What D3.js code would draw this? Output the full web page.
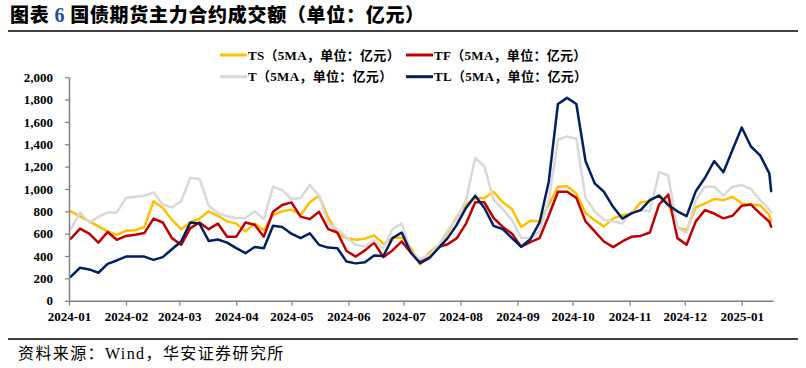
<!DOCTYPE html>
<html>
<head>
<meta charset="utf-8">
<script src="https://cdn.jsdelivr.net/npm/d3@7"></script>
<style>
  body { margin: 0; background: #fff; }
  svg { display: block; }
</style>
</head>
<body>
<svg id="chart"></svg>
<script>
// sample dates (5MA series)
const dates = [
  "2024-01-02","2024-01-07","2024-01-12","2024-01-17","2024-01-22","2024-01-27",
  "2024-02-01","2024-02-06","2024-02-11","2024-02-16","2024-02-21","2024-02-26",
  "2024-03-02","2024-03-07","2024-03-12","2024-03-17","2024-03-22","2024-03-27",
  "2024-04-01","2024-04-06","2024-04-11","2024-04-16","2024-04-21","2024-04-26",
  "2024-05-01","2024-05-06","2024-05-11","2024-05-16","2024-05-21","2024-05-26","2024-05-31",
  "2024-06-05","2024-06-10","2024-06-15","2024-06-20","2024-06-25","2024-06-30",
  "2024-07-05","2024-07-10","2024-07-15","2024-07-20","2024-07-25","2024-07-30",
  "2024-08-04","2024-08-09","2024-08-14","2024-08-19","2024-08-24","2024-08-29",
  "2024-09-03","2024-09-08","2024-09-13","2024-09-18","2024-09-23","2024-09-28",
  "2024-10-03","2024-10-08","2024-10-13","2024-10-18","2024-10-23","2024-10-28",
  "2024-11-02","2024-11-07","2024-11-12","2024-11-17","2024-11-22","2024-11-27",
  "2024-12-02","2024-12-07","2024-12-12","2024-12-17","2024-12-22","2024-12-27",
  "2025-01-01","2025-01-06","2025-01-11","2025-01-16","2025-01-17"
];

const tsValues = [
  800, 755, 710, 665, 620, 590,
  625, 630, 660, 890, 830, 725,
  640, 700, 735, 800, 760, 710,
  690, 620, 690, 632, 767, 800,
  815, 767, 880, 940, 740, 603, 560,
  545, 555, 585, 510, 560, 565,
  470, 325, 430, 495, 610, 750,
  860, 916, 920, 975, 880, 820,
  660, 715, 710, 860, 1020, 1025,
  960, 785, 720, 665, 737, 765,
  780, 880, 890, 945, 870, 650,
  632, 835, 870, 910, 900, 930,
  870, 860, 855, 767, 710
];

const tfValues = [
  555, 645, 600, 520, 615, 545,
  580, 590, 605, 735, 700, 560,
  500, 650, 700, 640, 690, 573,
  573, 700, 680, 573, 796, 856,
  880, 752, 730, 796, 640, 610, 445,
  395, 450, 520, 390, 450, 530,
  430, 350, 390, 480, 505, 560,
  690, 880, 880, 740, 660, 600,
  483, 525, 560, 760, 975, 975,
  920, 710, 620, 530, 480, 530,
  572, 580, 610, 860, 950, 560,
  500, 710, 811, 780, 737, 760,
  850, 860, 780, 707, 662
];

const tValues = [
  640, 790, 700, 750, 790, 790,
  920, 930, 940, 970, 860, 835,
  890, 1100, 1090, 850, 785, 755,
  740, 740, 800, 730, 1020, 990,
  910, 920, 1035, 940, 690, 640, 565,
  500, 485, 540, 468, 640, 690,
  435, 370, 410, 490, 630, 730,
  900, 1280, 1200, 905, 820, 720,
  560, 560, 620, 900, 1440, 1470,
  1450, 920, 800, 725, 710, 690,
  796, 810, 800, 1150, 1120, 650,
  610, 900, 1020, 1020, 940, 1020,
  1035, 1000, 900, 815, 790
];

const tlValues = [
  215, 295, 280, 250, 330, 360,
  395, 395, 395, 365, 390, 460,
  530, 700, 690, 535, 548, 520,
  470, 425, 480, 470, 670, 660,
  600, 560, 603, 500, 475, 470, 350,
  334, 345, 405, 400, 560, 610,
  430, 335, 380, 470, 560, 680,
  830, 940, 830, 670, 640, 560,
  483, 550, 700, 1065, 1760, 1815,
  1760, 1250, 1050, 975, 840, 735,
  781, 811, 900, 940, 856, 800,
  757, 980, 1100, 1250, 1150, 1350,
  1550, 1380, 1300, 1140, 980
];

const seriesNames = ["TS", "TF", "T", "TL"];
const seriesColors = ["#FFC000", "#C00000", "#D9D9D9", "#002060"];
const xTickLabels = ["2024-01","2024-02","2024-03","2024-04","2024-05","2024-06","2024-07",
  "2024-08","2024-09","2024-10","2024-11","2024-12","2025-01"];
const yTickValues = [0, 200, 400, 600, 800, 1000, 1200, 1400, 1600, 1800, 2000];

class Linechart {
  constructor(_config) {
    this.config = {
      parentElement: _config.parentElement,
      containerWidth: _config.containerWidth || 806,
      containerHeight: _config.containerHeight || 368,
      margin: _config.margin || { top: 77.2, right: 33, bottom: 67.3, left: 69 },
      latinFont: "'Liberation Serif', 'Times New Roman', serif",
      cjkFont: "'Noto Sans CJK SC', sans-serif"
    };
    this.initVis();
  }

  initVis() {
    let vis = this;
    const parseDay = d3.timeParse("%Y-%m-%d");
    const parseMonth = d3.timeParse("%Y-%m");

    vis.width = vis.config.containerWidth - vis.config.margin.left - vis.config.margin.right;
    vis.height = vis.config.containerHeight - vis.config.margin.top - vis.config.margin.bottom;

    vis.series = [tsValues, tfValues, tValues, tlValues].map((vals, i) => ({
      name: seriesNames[i],
      color: seriesColors[i],
      values: vals.map((v, j) => ({ date: parseDay(dates[j]), value: v }))
    }));

    vis.xScale = d3.scaleTime()
      .domain([parseDay("2024-01-01"), parseDay("2025-01-18")])
      .range([0, vis.width]);
    vis.yScale = d3.scaleLinear().domain([0, 2000]).range([vis.height, 0]);

    vis.xAxis = d3.axisBottom(vis.xScale)
      .tickValues(xTickLabels.map(parseMonth))
      .tickFormat(d3.timeFormat("%Y-%m"))
      .tickSizeInner(5)
      .tickSizeOuter(0)
      .tickPadding(6);

    vis.yAxis = d3.axisLeft(vis.yScale)
      .tickValues(yTickValues)
      .tickFormat(d3.format(","))
      .tickSizeInner(4)
      .tickSizeOuter(0)
      .tickPadding(12);

    vis.line = d3.line()
      .x(d => vis.xScale(d.date))
      .y(d => vis.yScale(d.value));

    vis.svg = d3.select(vis.config.parentElement)
      .attr("width", vis.config.containerWidth)
      .attr("height", vis.config.containerHeight);

    vis.svg.append("rect")
      .attr("width", vis.config.containerWidth)
      .attr("height", vis.config.containerHeight)
      .attr("fill", "#fff");

    // Title with blue figure number
    const title = vis.svg.append("text")
      .attr("x", 10)
      .attr("y", 21.5)
      .attr("font-family", vis.config.cjkFont)
      .attr("font-weight", 900)
      .attr("font-size", "19px")
      .attr("letter-spacing", "0.7px")
      .attr("fill", "#000");
    title.append("tspan").text("图表 ");
    title.append("tspan")
      .attr("font-family", vis.config.latinFont)
      .attr("font-weight", 700)
      .attr("fill", "#1F4E9C")
      .attr("font-size", "20px")
      .text("6");
    title.append("tspan").text(" 国债期货主力合约成交额（单位：亿元）");

    vis.svg.append("line")
      .attr("x1", 8).attr("x2", 798)
      .attr("y1", 31).attr("y2", 31)
      .attr("stroke", "#000")
      .attr("stroke-width", 1.5);

    vis.svg.append("line")
      .attr("x1", 8).attr("x2", 798)
      .attr("y1", 339).attr("y2", 339)
      .attr("stroke", "#000")
      .attr("stroke-width", 1.5);

    vis.svg.append("text")
      .attr("x", 18)
      .attr("y", 359)
      .attr("font-family", vis.config.latinFont + ", " + vis.config.cjkFont)
      .attr("font-size", "16px")
      .attr("letter-spacing", "1.4px")
      .attr("fill", "#000")
      .text("资料来源：Wind，华安证券研究所");

    vis.chart = vis.svg.append("g")
      .attr("transform", `translate(${vis.config.margin.left},${vis.config.margin.top})`);

    vis.xAxisG = vis.chart.append("g")
      .attr("class", "axis x-axis")
      .attr("transform", `translate(0,${vis.height})`);
    vis.yAxisG = vis.chart.append("g")
      .attr("class", "axis y-axis");

    // Legend, two rows of two
    const legendPos = [[220, 55], [406, 55], [220, 76.7], [406, 76.7]];
    vis.legend = vis.svg.append("g").attr("class", "legend");
    vis.series.forEach((s, i) => {
      const g = vis.legend.append("g")
        .attr("transform", `translate(${legendPos[i][0]},${legendPos[i][1]})`);
      g.append("line")
        .attr("x1", 0).attr("x2", 27)
        .attr("stroke", s.color)
        .attr("stroke-width", 3);
      g.append("text")
        .attr("x", 28)
        .attr("dy", "0.35em")
        .attr("font-family", vis.config.latinFont + ", " + vis.config.cjkFont)
        .attr("font-weight", 700)
        .attr("font-size", "13px")
        .attr("letter-spacing", "0.3px")
        .attr("fill", "#000")
        .text(`${s.name}（5MA，单位：亿元）`);
    });

    vis.renderVis();
  }

  renderVis() {
    let vis = this;

    vis.chart.selectAll(".line-path")
      .data(vis.series)
      .join("path")
      .attr("class", "line-path")
      .attr("d", d => vis.line(d.values))
      .attr("fill", "none")
      .attr("stroke", d => d.color)
      .attr("stroke-width", 2.5)
      .attr("stroke-linejoin", "round")
      .attr("stroke-linecap", "round");

    vis.xAxisG.call(vis.xAxis);
    vis.yAxisG.call(vis.yAxis);

    [vis.xAxisG, vis.yAxisG].forEach(g => {
      g.select(".domain").attr("stroke", "#808080").attr("stroke-width", 1.5);
      g.selectAll(".tick line").attr("stroke", "#808080").attr("stroke-width", 1.2);
      g.selectAll(".tick text")
        .attr("font-family", vis.config.latinFont)
        .attr("font-weight", 700)
        .attr("font-size", "13px")
        .attr("fill", "#000");
    });
    vis.xAxisG.raise();
    vis.yAxisG.raise();
  }
}

new Linechart({ parentElement: "#chart" });
</script>
</body>
</html>
